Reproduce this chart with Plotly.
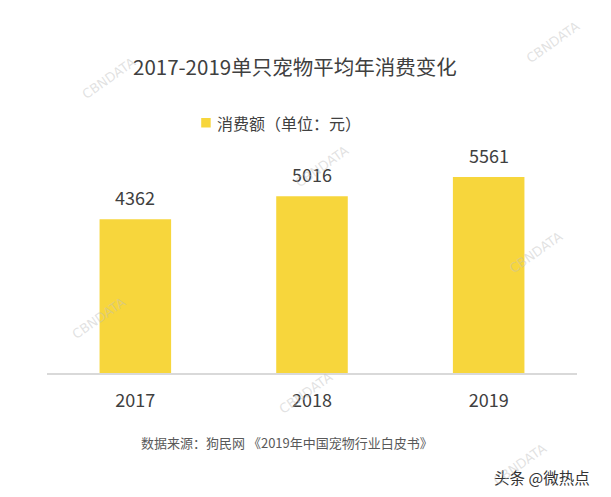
import plotly.graph_objects as go

years = ["2017", "2018", "2019"]
values = [4362, 5016, 5561]
title_text = "2017-2019单只宠物平均年消费变化"
legend_name = "消费额（单位：元）"
source_text = "数据来源：狗民网 《2019年中国宠物行业白皮书》"
credit_text = "头条 @微热点"

FONT = "Noto Sans CJK SC, Microsoft YaHei, sans-serif"
BAR = "#F7D63C"
TXT = "#404040"

OFF = 8  # page body margin
W, H = 611 - OFF, 497 - OFF
L, R, T, B = 46.5 - OFF, 33.5, 144 - OFF, 124
PW, PH = W - L - R, H - T - B


def px(x):
    return (x - OFF - L) / PW


def py(y):
    return (H - B - (y - OFF)) / PH


fig = go.Figure()
fig.add_trace(go.Bar(
    x=years, y=values, name=legend_name,
    marker=dict(color=BAR, line=dict(width=0)),
    width=0.405, showlegend=False, hoverinfo="x+y",
))

fig.update_layout(
    width=W, height=H,
    margin=dict(l=L, r=R, t=T, b=B, pad=0),
    paper_bgcolor="white", plot_bgcolor="white",
    font=dict(family=FONT, color=TXT),
    showlegend=False,
    xaxis=dict(type="category", range=[-0.5, 2.5], showgrid=False, zeroline=False,
               showline=True, linecolor="#D9D9D9",
               linewidth=1.5, ticks="", tickfont=dict(size=18, color=TXT, family=FONT),
               ticklabelstandoff=11),
    yaxis=dict(visible=False, range=[0, 6500]),
)

out = []
# value labels (category index positions)
for i, v in enumerate(values):
    out.append(dict(text=str(v), x=i, y=v, xref="x", yref="y", showarrow=False,
                    yshift=22, xanchor="center", yanchor="middle",
                    font=dict(size=18, color=TXT, family=FONT)))

texts = [
    (title_text, 295, 66, 20.5, TXT),
    (legend_name, 288.5, 123, 16, TXT),
    (source_text, 287, 442, 13, "#595959"),
    (credit_text, 542, 477, 15.5, "#333333"),
]
for t, x, y, s, c in texts:
    out.append(dict(text=t, x=px(x), y=py(y), xref="paper", yref="paper", showarrow=False,
                    xanchor="center", yanchor="middle",
                    font=dict(size=s, color=c, family=FONT)))

# faint CBNDATA watermarks
for (wx, wy) in [(108, 78), (553, 42), (322, 166), (98, 318), (536, 252), (305, 393), (520, 464)]:
    out.append(dict(text="CBNDATA", x=px(wx), y=py(wy),
                    xref="paper", yref="paper", showarrow=False, textangle=-35,
                    xanchor="center", yanchor="middle",
                    font=dict(size=13, color="rgba(190,190,190,0.45)", family="DejaVu Sans")))

fig.update_layout(annotations=out)

# legend square
fig.add_shape(type="rect", xref="paper", yref="paper",
              x0=px(201), x1=px(210.5), y0=py(127.5), y1=py(118),
              fillcolor=BAR, line=dict(width=0))

fig.write_html("out.html")
